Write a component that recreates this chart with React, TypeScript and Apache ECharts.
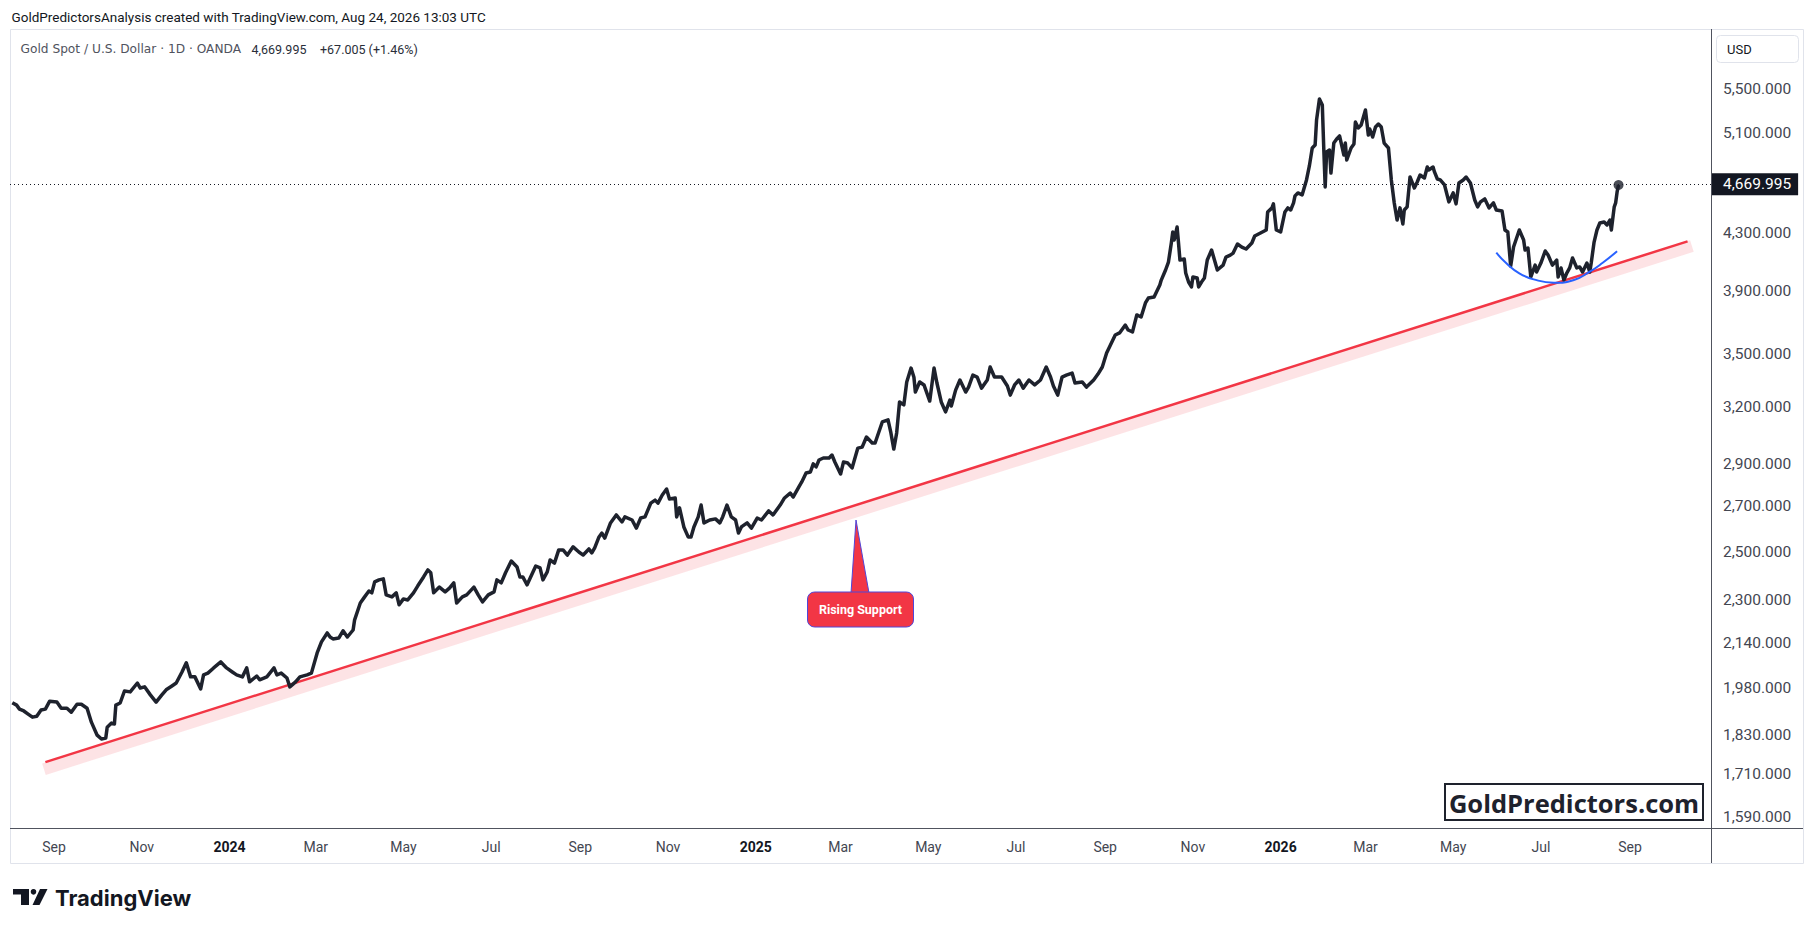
import React, { useEffect, useRef } from "react";
import * as echarts from "echarts";

// ---------- DATA ----------
const dates: string[] = [
  "2023-08-03","2023-08-06","2023-08-08","2023-08-11","2023-08-14","2023-08-17","2023-08-20","2023-08-23","2023-08-26","2023-08-29",
  "2023-09-03","2023-09-06","2023-09-10","2023-09-13","2023-09-17","2023-09-20","2023-09-24","2023-09-27","2023-10-01","2023-10-04",
  "2023-10-07","2023-10-08","2023-10-11","2023-10-13","2023-10-14","2023-10-17","2023-10-20","2023-10-24","2023-10-29","2023-10-31",
  "2023-11-03","2023-11-07","2023-11-11","2023-11-15","2023-11-18","2023-11-22","2023-11-25","2023-11-29","2023-12-02","2023-12-05",
  "2023-12-08","2023-12-12","2023-12-14","2023-12-17","2023-12-21","2023-12-26","2023-12-30",
  "2024-01-03","2024-01-06","2024-01-10","2024-01-13","2024-01-15","2024-01-20","2024-01-22","2024-01-27","2024-02-01","2024-02-03",
  "2024-02-06","2024-02-10","2024-02-12","2024-02-16","2024-02-19","2024-02-24","2024-02-27","2024-03-02","2024-03-05","2024-03-09",
  "2024-03-11","2024-03-13","2024-03-17","2024-03-20","2024-03-23","2024-03-27","2024-03-28","2024-04-01","2024-04-04","2024-04-07",
  "2024-04-09","2024-04-11","2024-04-14","2024-04-17","2024-04-19","2024-04-23","2024-04-26","2024-04-28","2024-05-01","2024-05-04",
  "2024-05-08","2024-05-11","2024-05-15","2024-05-18","2024-05-20","2024-05-22","2024-05-26","2024-05-30","2024-06-02","2024-06-05",
  "2024-06-07","2024-06-11","2024-06-14","2024-06-19","2024-06-22","2024-06-25","2024-06-29","2024-07-03","2024-07-05","2024-07-08",
  "2024-07-11","2024-07-15","2024-07-19","2024-07-21","2024-07-23","2024-07-26","2024-08-01","2024-08-04","2024-08-06","2024-08-09",
  "2024-08-11","2024-08-14","2024-08-17","2024-08-20","2024-08-23","2024-08-27","2024-08-31","2024-09-03","2024-09-07","2024-09-09",
  "2024-09-11","2024-09-14","2024-09-16","2024-09-18","2024-09-22","2024-09-26","2024-09-30","2024-10-02","2024-10-07","2024-10-10",
  "2024-10-13","2024-10-16","2024-10-20","2024-10-23","2024-10-25","2024-10-28","2024-10-31","2024-11-02","2024-11-06","2024-11-07",
  "2024-11-09","2024-11-12","2024-11-15","2024-11-17","2024-11-19","2024-11-22","2024-11-24","2024-11-26","2024-11-30","2024-12-04",
  "2024-12-07","2024-12-09","2024-12-12","2024-12-15","2024-12-18","2024-12-20","2024-12-22","2024-12-26","2024-12-29",
  "2025-01-02","2025-01-05","2025-01-10","2025-01-13","2025-01-18","2025-01-21","2025-01-25","2025-01-27","2025-01-31","2025-02-02",
  "2025-02-05","2025-02-08","2025-02-10","2025-02-12","2025-02-14","2025-02-17","2025-02-21","2025-02-23","2025-02-25","2025-03-01",
  "2025-03-03","2025-03-06","2025-03-09","2025-03-13","2025-03-16","2025-03-19","2025-03-23","2025-03-25","2025-03-30","2025-04-03",
  "2025-04-05","2025-04-07","2025-04-09","2025-04-11","2025-04-14","2025-04-16","2025-04-19","2025-04-21","2025-04-22","2025-04-25",
  "2025-04-28","2025-05-02","2025-05-05","2025-05-07","2025-05-10","2025-05-13","2025-05-16","2025-05-17","2025-05-20","2025-05-23",
  "2025-05-27","2025-05-29","2025-06-01","2025-06-04","2025-06-07","2025-06-11","2025-06-13","2025-06-16","2025-06-21","2025-06-25",
  "2025-06-27","2025-06-30","2025-07-03","2025-07-06","2025-07-10","2025-07-14","2025-07-18","2025-07-22","2025-07-25","2025-07-27",
  "2025-07-30","2025-08-02","2025-08-05","2025-08-09","2025-08-11","2025-08-16","2025-08-19","2025-08-24","2025-08-27","2025-08-30",
  "2025-09-02","2025-09-04","2025-09-08","2025-09-11","2025-09-15","2025-09-17","2025-09-20","2025-09-23","2025-09-26","2025-09-29",
  "2025-10-01","2025-10-05","2025-10-09","2025-10-10","2025-10-13","2025-10-15","2025-10-17","2025-10-18","2025-10-19","2025-10-21",
  "2025-10-22","2025-10-23","2025-10-26","2025-10-27","2025-10-29","2025-10-31","2025-11-01","2025-11-04","2025-11-05","2025-11-07",
  "2025-11-09","2025-11-11","2025-11-14","2025-11-16","2025-11-18","2025-11-22","2025-11-24","2025-11-27","2025-11-29","2025-12-02",
  "2025-12-05","2025-12-08","2025-12-12","2025-12-14","2025-12-18","2025-12-22","2025-12-23","2025-12-26","2025-12-27","2025-12-29",
  "2026-01-01","2026-01-04","2026-01-06","2026-01-08","2026-01-10","2026-01-11","2026-01-13","2026-01-16","2026-01-19","2026-01-21",
  "2026-01-23","2026-01-25","2026-01-26","2026-01-28","2026-01-30","2026-01-31","2026-02-01","2026-02-02","2026-02-04","2026-02-05",
  "2026-02-07","2026-02-09","2026-02-11","2026-02-14","2026-02-15","2026-02-16","2026-02-19","2026-02-21","2026-02-22","2026-02-24",
  "2026-02-26","2026-03-01","2026-03-03","2026-03-04","2026-03-06","2026-03-08","2026-03-10","2026-03-12","2026-03-14","2026-03-17",
  "2026-03-19","2026-03-21","2026-03-23","2026-03-25","2026-03-27","2026-03-28","2026-03-30","2026-04-01","2026-04-04","2026-04-06",
  "2026-04-08","2026-04-11","2026-04-13","2026-04-14","2026-04-17","2026-04-18","2026-04-20","2026-04-22","2026-04-25","2026-04-28",
  "2026-05-01","2026-05-03","2026-05-05","2026-05-08","2026-05-10","2026-05-13","2026-05-16","2026-05-18","2026-05-20","2026-05-23",
  "2026-05-26","2026-05-29","2026-05-31","2026-06-04","2026-06-06","2026-06-08","2026-06-10","2026-06-12","2026-06-16","2026-06-19",
  "2026-06-20","2026-06-22","2026-06-24","2026-06-27","2026-06-28","2026-07-01","2026-07-04","2026-07-06","2026-07-09","2026-07-12",
  "2026-07-13","2026-07-15","2026-07-17","2026-07-19","2026-07-21","2026-07-23","2026-07-26","2026-07-28","2026-07-30","2026-08-02",
  "2026-08-04","2026-08-05","2026-08-07","2026-08-09","2026-08-11","2026-08-14","2026-08-16","2026-08-18","2026-08-19","2026-08-21",
  "2026-08-22","2026-08-23","2026-08-24",
];

const prices: number[] = [
  1932,1924,1911,1905,1895,1885,1888,1908,1911,1937,
  1934,1914,1914,1901,1927,1927,1914,1869,1828,1816,
  1819,1853,1866,1863,1924,1931,1971,1968,1998,1981,
  1985,1958,1934,1958,1975,1988,1998,2036,2068,2019,
  2019,1978,2026,2032,2050,2071,2050,
  2036,2026,2019,2050,2002,2022,2009,2019,2050,2026,
  2032,2015,1985,2002,2019,2026,2032,2103,2143,2176,
  2161,2154,2157,2184,2161,2187,2224,2290,2314,2337,
  2330,2374,2382,2386,2322,2314,2330,2283,2306,2302,
  2330,2358,2394,2423,2411,2330,2353,2334,2349,2370,
  2290,2314,2322,2353,2322,2294,2322,2334,2382,2370,
  2411,2460,2435,2394,2394,2362,2439,2431,2382,2415,
  2464,2451,2507,2507,2485,2520,2498,2485,2511,2494,
  2516,2563,2580,2558,2625,2661,2629,2652,2638,2602,
  2647,2652,2715,2729,2715,2753,2781,2734,2739,2652,
  2693,2607,2563,2563,2607,2652,2706,2625,2638,2643,
  2625,2652,2706,2652,2638,2580,2607,2625,2602,
  2647,2638,2679,2661,2706,2739,2762,2743,2791,2815,
  2858,2863,2903,2888,2922,2932,2932,2947,2912,2853,
  2912,2907,2883,2982,2987,3039,3008,3008,3118,3129,
  3060,2977,3060,3226,3210,3338,3418,3365,3281,3338,
  3321,3231,3418,3332,3226,3172,3236,3204,3292,3349,
  3281,3309,3377,3366,3303,3349,3424,3366,3366,3315,
  3264,3321,3349,3303,3349,3321,3349,3424,3366,3315,
  3264,3366,3377,3389,3332,3338,3309,3349,3383,3424,
  3507,3543,3616,3629,3678,3647,3635,3742,3729,3819,
  3851,3858,3938,3971,4040,4095,4230,4310,4252,4347,
  4230,4109,4116,4019,3958,3925,3992,3985,3925,3958,
  3985,4109,4180,4109,4040,4074,4130,4144,4158,4223,
  4201,4187,4230,4281,4303,4325,4460,4491,4522,4325,
  4310,4460,4491,4475,4530,4584,4607,4592,4710,4824,
  4974,4999,5217,5407,5352,4974,4654,4940,4957,4766,
  5016,5051,5077,4914,5016,4873,4974,5008,5199,5147,
  5173,5307,5085,5137,5068,5155,5181,5155,5016,4974,
  4710,4530,4399,4491,4369,4475,4499,4734,4646,4694,
  4750,4726,4815,4791,4815,4775,4718,4710,4670,4537,
  4607,4522,4686,4710,4734,4686,4552,4499,4537,4560,
  4491,4530,4475,4467,4325,4310,4067,4201,4325,4252,
  4180,4194,3992,4074,4026,4088,4173,4144,4074,4109,
  3992,4054,3971,4019,4054,4123,4054,4061,4026,4088,
  4026,4088,4237,4325,4377,4384,4362,4399,4325,4499,
  4530,4615,4669.995,
];

// Rising support trend line and its shaded band
const supportDates: string[] = ["2023-08-26", "2026-10-11"];
const supportPrices: number[] = [1746, 4242];
const bandDates: string[] = ["2023-08-25", "2026-10-14"];
const bandPrices: number[] = [1725, 4208];

// Rounded-bottom arc drawn under the 2026 consolidation
const arcDates: string[] = ["2026-05-31", "2026-06-07", "2026-06-16", "2026-06-26", "2026-07-10", "2026-07-24", "2026-08-04", "2026-08-13", "2026-08-23"];
const arcPrices: number[] = [4161, 4086, 4017, 3976, 3953, 3972, 4028, 4090, 4171];

// Axis ticks
const priceTicks: number[] = [1590, 1710, 1830, 1980, 2140, 2300, 2500, 2700, 2900, 3200, 3500, 3900, 4300, 5100, 5500];
const timeTicks: string[] = [
  "2023-09-01", "2023-11-01", "2024-01-01", "2024-03-01", "2024-05-01", "2024-07-01", "2024-09-01", "2024-11-01",
  "2025-01-01", "2025-03-01", "2025-05-01", "2025-07-01", "2025-09-01", "2025-11-01",
  "2026-01-01", "2026-03-01", "2026-05-01", "2026-07-01", "2026-09-01",
];
const monthNames: string[] = ["Jan", "Feb", "Mar", "Apr", "May", "Jun", "Jul", "Aug", "Sep", "Oct", "Nov", "Dec"];

const lastPrice = prices[prices.length - 1];
const headerText = "GoldPredictorsAnalysis created with TradingView.com, Aug 24, 2026 13:03 UTC";
const legendName = "Gold Spot / U.S. Dollar · 1D · OANDA";
const legendValue = "4,669.995";
const legendChange = "+67.005 (+1.46%)";

// ---------- helpers ----------
function fmtPrice(n: number): string {
  const [i, f] = n.toFixed(3).split(".");
  return i.replace(/\B(?=(\d{3})+(?!\d))/g, ",") + "." + f;
}
const pt = (d: string, p: number) => [Date.parse(d), Math.log(p)];

const FONT = "Roboto, 'Noto Sans', sans-serif";
const WIDE = "'DejaVu Sans', Roboto, sans-serif";

export default function App() {
  const ref = useRef<HTMLDivElement>(null);

  useEffect(() => {
    if (!ref.current) return;
    const chart = echarts.init(ref.current, null, { renderer: "svg", width: 1814, height: 932 });

    const priceData = dates.map((d, i) => pt(d, prices[i]));
    const supportData = supportDates.map((d, i) => pt(d, supportPrices[i]));
    const bandData = bandDates.map((d, i) => pt(d, bandPrices[i]));
    const arcData = arcDates.map((d, i) => pt(d, arcPrices[i]));

    const option: any = {
      animation: false,
      backgroundColor: "#ffffff",
      grid: { left: 10, right: 103, top: 29, bottom: 104, containLabel: false, outerBoundsMode: "none" },
      xAxis: {
        type: "value",
        min: Date.parse("2023-08-01T09:36:00Z"),
        max: Date.parse("2026-10-27T07:12:00Z"),
        axisLine: { show: false },
        axisTick: { show: false },
        splitLine: { show: false },
        axisLabel: {
          customValues: timeTicks.map((t) => Date.parse(t)),
          margin: 12,
          color: "#434651",
          fontSize: 14,
          fontFamily: FONT,
          formatter: (v: number) => {
            const d = new Date(v);
            const m = d.getUTCMonth();
            return m === 0 ? `{y|${d.getUTCFullYear()}}` : monthNames[m];
          },
          rich: { y: { fontWeight: "bold", color: "#131722", fontSize: 14, fontFamily: FONT } },
        },
      },
      yAxis: {
        type: "value",
        position: "right",
        min: 7.35273,
        max: 8.7148,
        axisLine: { show: false },
        axisTick: { show: false },
        splitLine: { show: false },
        axisLabel: {
          customValues: priceTicks.map((p) => Math.log(p)),
          margin: 12,
          color: "#434651",
          fontSize: 15.5,
          fontFamily: FONT,
          formatter: (v: number) => fmtPrice(Math.round(Math.exp(v))),
        },
      },
      series: [
        {
          type: "line",
          name: "band",
          data: bandData,
          showSymbol: false,
          silent: true,
          lineStyle: { color: "rgba(242,54,69,0.14)", width: 12, cap: "butt" },
          z: 1,
        },
        {
          type: "line",
          name: "support",
          data: supportData,
          showSymbol: false,
          silent: true,
          lineStyle: { color: "#f23645", width: 2.5 },
          z: 2,
        },
        {
          type: "line",
          name: "XAUUSD",
          data: priceData,
          showSymbol: false,
          silent: true,
          lineStyle: { color: "#1e222d", width: 3.5, join: "round" },
          z: 3,
          markLine: {
            silent: true,
            symbol: ["none", "none"],
            lineStyle: { color: "#131722", width: 1, type: [1, 3] },
            label: {
              show: true,
              position: "end",
              distance: 0,
              formatter: () => fmtPrice(lastPrice),
              backgroundColor: "#131722",
              color: "#ffffff",
              fontSize: 15.5,
              fontFamily: FONT,
              lineHeight: 15,
              padding: [4, 7, 3, 12],
            },
            data: [{ yAxis: Math.log(lastPrice) }],
          },
        },
        {
          type: "line",
          name: "arc",
          data: arcData,
          smooth: true,
          showSymbol: false,
          silent: true,
          lineStyle: { color: "#2962ff", width: 2 },
          z: 4,
        },
        {
          type: "scatter",
          name: "last",
          data: [priceData[priceData.length - 1]],
          symbolSize: 10,
          itemStyle: { color: "#1e222d" },
          silent: true,
          z: 5,
        },
      ],
      graphic: [
        // outer frame
        { type: "rect", z: 0, silent: true, shape: { x: 10.5, y: 29.5, width: 1793, height: 834 }, style: { fill: "none", stroke: "#e0e3eb", lineWidth: 1 } },
        // axis separators
        { type: "line", z: 50, silent: true, shape: { x1: 10, y1: 828.5, x2: 1803, y2: 828.5 }, style: { stroke: "#50535e", lineWidth: 1 } },
        { type: "line", z: 50, silent: true, shape: { x1: 1711.5, y1: 29, x2: 1711.5, y2: 863 }, style: { stroke: "#50535e", lineWidth: 1 } },
        // USD box
        { type: "rect", z: 50, silent: true, shape: { x: 1716.5, y: 35.5, width: 82, height: 27, r: 4 }, style: { fill: "#ffffff", stroke: "#e0e3eb", lineWidth: 1 } },
        { type: "text", z: 51, silent: true, style: { text: "USD", x: 1727, y: 49, fill: "#131722", fontSize: 13, fontFamily: FONT, verticalAlign: "middle" } },
        // header
        { type: "text", z: 51, silent: true, style: { text: headerText, x: 11.5, y: 17, fill: "#131722", fontSize: 13.5, fontFamily: FONT, verticalAlign: "middle" } },
        { type: "text", z: 51, silent: true, style: { text: legendName, x: 20.5, y: 49, fill: "#50535e", fontSize: 12.2, fontFamily: WIDE, verticalAlign: "middle" } },
        { type: "text", z: 51, silent: true, style: { text: legendValue, x: 251.5, y: 49, fill: "#2a2e39", fontSize: 12.5, fontFamily: FONT, verticalAlign: "middle" } },
        { type: "text", z: 51, silent: true, style: { text: legendChange, x: 320, y: 49, fill: "#2a2e39", fontSize: 12.5, fontFamily: FONT, verticalAlign: "middle" } },
        // Rising Support callout
        { type: "polygon", z: 60, silent: true, shape: { points: [[851, 593], [856, 520], [869, 593]] }, style: { fill: "#f23645", stroke: "#5146d8", lineWidth: 1 } },
        { type: "rect", z: 61, silent: true, shape: { x: 807.5, y: 592, width: 106, height: 35, r: 7 }, style: { fill: "#f23645", stroke: "#5146d8", lineWidth: 1 } },
        { type: "text", z: 62, silent: true, style: { text: "Rising Support", x: 860.5, y: 609.5, fill: "#ffffff", fontSize: 12.5, fontWeight: "bold", fontFamily: FONT, align: "center", verticalAlign: "middle" } },
        // watermark box
        { type: "rect", z: 60, silent: true, shape: { x: 1445, y: 784, width: 258, height: 36 }, style: { fill: "#ffffff", stroke: "#1e222d", lineWidth: 2 } },
        { type: "text", z: 61, silent: true, style: { text: "GoldPredictors.com", x: 1574, y: 802.5, fill: "#1e222d", fontSize: 25.5, fontWeight: "bold", fontFamily: "'Open Sans', sans-serif", align: "center", verticalAlign: "middle" } },
        // TradingView logo
        { type: "rect", z: 51, silent: true, shape: { x: 13, y: 889, width: 16, height: 5.5 }, style: { fill: "#131722" } },
        { type: "rect", z: 51, silent: true, shape: { x: 21, y: 889, width: 8, height: 16 }, style: { fill: "#131722" } },
        { type: "circle", z: 51, silent: true, shape: { cx: 33.5, cy: 891.8, r: 2.8 }, style: { fill: "#131722" } },
        { type: "polygon", z: 51, silent: true, shape: { points: [[40, 889], [47.5, 889], [39.5, 905], [32.5, 905]] }, style: { fill: "#131722" } },
        { type: "text", z: 51, silent: true, style: { text: "TradingView", x: 55, y: 897.5, fill: "#131722", fontSize: 22, fontWeight: "bold", fontFamily: "Inter, Roboto, sans-serif", verticalAlign: "middle" } },
      ],
    };

    chart.setOption(option);
    return () => chart.dispose();
  }, []);

  return (
    <div
      ref={ref}
      style={{ position: "fixed", left: 0, top: 0, width: "1814px", height: "932px", background: "#ffffff" }}
    />
  );
}
